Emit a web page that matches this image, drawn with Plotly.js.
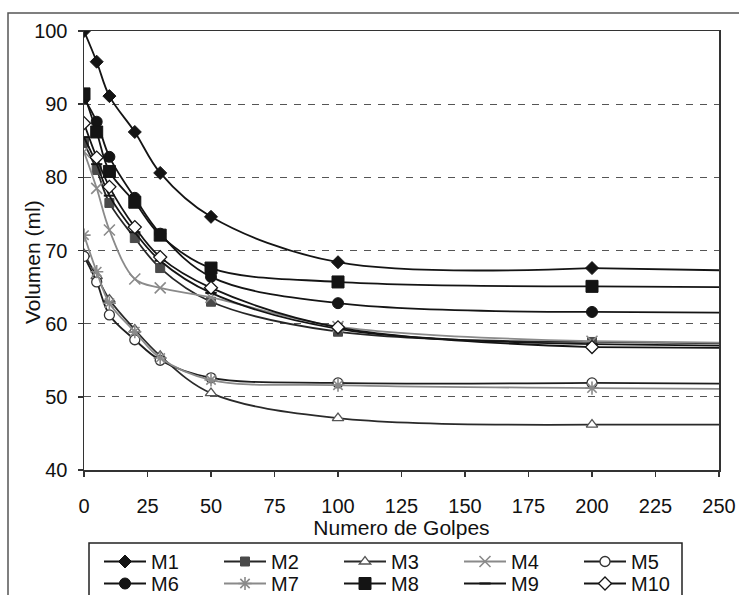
<!DOCTYPE html>
<html><head><meta charset="utf-8">
<script src="https://cdn.plot.ly/plotly-3.0.1.min.js"></script>
<style>html,body{margin:0;padding:0;background:#fff}</style>
</head><body>
<div id="chart" style="width:739px;height:595px"></div>
<script>
// x values: number of blows
const golpes = [0, 5, 10, 20, 30, 50, 100, 200, 250];
// volume (ml) per mixture
const M1  = [100.0, 95.8, 91.1, 86.2, 80.6, 74.6, 68.4, 67.6, 67.3];
const M2  = [84.7, 81.0, 76.5, 71.7, 67.6, 63.0, 58.9, 57.5, 57.3];
const M3  = [69.5, 66.5, 63.3, 59.2, 55.6, 50.5, 47.1, 46.2, 46.2];
const M4  = [83.5, 78.5, 72.8, 66.1, 64.9, 63.6, 59.6, 57.6, 57.4];
const M5  = [69.2, 65.7, 61.2, 57.8, 55.0, 52.6, 51.9, 51.9, 51.8];
const M6  = [90.8, 87.6, 82.8, 77.2, 72.3, 66.4, 62.8, 61.6, 61.5];
const M7  = [72.1, 67.1, 62.8, 58.9, 55.3, 52.3, 51.6, 51.2, 51.1];
const M8  = [91.4, 86.2, 80.8, 76.6, 72.1, 67.6, 65.7, 65.1, 65.0];
const M9  = [85.5, 81.8, 77.5, 72.5, 68.6, 64.2, 59.3, 57.2, 57.0];
const M10 = [87.4, 82.7, 78.7, 73.2, 69.1, 64.9, 59.5, 56.8, 56.7];

const seriesNames = ['M1','M2','M3','M4','M5','M6','M7','M8','M9','M10'];
const seriesValues = [M1, M2, M3, M4, M5, M6, M7, M8, M9, M10];
const xTicks = [0, 25, 50, 75, 100, 125, 150, 175, 200, 225, 250];
const yTicks = [40, 50, 60, 70, 80, 90, 100];

// styles
const BK = '#141414', DG = '#4a4a4a', GR = '#8a8a8a';
const styles = {
  M1:  {lc: BK, sym: 'diamond', size: 10, fill: BK, ol: BK, olw: 1},
  M2:  {lc: '#262626', sym: 'square', size: 9, fill: DG, ol: DG, olw: 1},
  M3:  {lc: '#2a2a2a', sym: 'triangle-up', size: 10, fill: '#fff', ol: '#555', olw: 1.3},
  M4:  {lc: GR, sym: 'x-thin-open', size: 11, fill: GR, ol: GR, olw: 1.6},
  M5:  {lc: '#1e1e1e', sym: 'circle', size: 10, fill: '#fff', ol: '#333', olw: 1.3},
  M6:  {lc: BK, sym: 'circle', size: 11, fill: BK, ol: BK, olw: 1},
  M7:  {lc: GR, sym: 'asterisk-open', size: 11, fill: GR, ol: GR, olw: 1.6},
  M8:  {lc: BK, sym: 'square', size: 12, fill: BK, ol: BK, olw: 1},
  M9:  {lc: BK, sym: 'line-ew-open', size: 8, fill: BK, ol: BK, olw: 2},
  M10: {lc: BK, sym: 'diamond', size: 10, fill: '#fff', ol: BK, olw: 1.3}
};

const lastMarked = 200;
const traces = [];
// tails (beyond last marked point), no markers
seriesNames.forEach((n, i) => {
  const s = styles[n];
  const idx = golpes.map((x, j) => j).filter(j => golpes[j] >= lastMarked);
  traces.push({
    x: idx.map(j => golpes[j]), y: idx.map(j => seriesValues[i][j]),
    mode: 'lines', line: {color: s.lc, width: 1.8}, showlegend: false, hoverinfo: 'skip'
  });
});
seriesNames.forEach((n, i) => {
  const s = styles[n];
  const idx = golpes.map((x, j) => j).filter(j => golpes[j] <= lastMarked);
  traces.push({
    name: n,
    x: idx.map(j => golpes[j]), y: idx.map(j => seriesValues[i][j]),
    mode: 'lines+markers',
    line: {color: s.lc, width: 1.8, shape: 'spline', smoothing: 1},
    marker: {symbol: s.sym, size: s.size, color: s.fill, line: {color: s.ol, width: s.olw}},
    legend: i < 5 ? 'legend' : 'legend2'
  });
});

const FONT = 'Liberation Sans, Arial, sans-serif';
const L = 84, R = 20, T = 31, B = 125, W = 739, H = 595;
const pw = W - L - R, ph = H - T - B;
const px2x = p => (p - L) / pw;
const py2y = p => (H - B - p) / ph;

const legendCommon = {
  orientation: 'h', xanchor: 'left', yanchor: 'top', xref: 'paper', yref: 'paper',
  entrywidth: 63, entrywidthmode: 'pixels', itemwidth: 42,
  font: {family: FONT, size: 20, color: '#111'}, bgcolor: 'rgba(0,0,0,0)', borderwidth: 0,
  traceorder: 'normal'
};

const layout = {
  width: W, height: H,
  margin: {l: L, r: R, t: T, b: B, autoexpand: false},
  paper_bgcolor: '#fff', plot_bgcolor: '#fff',
  font: {family: FONT, size: 20, color: '#111'},
  xaxis: {
    range: [0, 250], tickvals: xTicks, ticktext: xTicks.map(String),
    showgrid: false, zeroline: false,
    showline: true, linecolor: '#333', linewidth: 1.5, mirror: true,
    ticks: 'outside', ticklen: 5, tickcolor: '#333', tickwidth: 1.5, ticklabelstandoff: 12,
    tickfont: {family: FONT, size: 20, color: '#111'},
    title: {text: 'Numero de Golpes', font: {family: FONT, size: 21, color: '#111'}, standoff: 3}
  },
  yaxis: {
    range: [40, 100], tickvals: yTicks, ticktext: yTicks.map(String),
    showgrid: true, gridcolor: '#555', gridwidth: 1.3, griddash: '7px,7px',
    zeroline: false,
    showline: true, linecolor: '#333', linewidth: 1.5, mirror: true,
    ticks: 'outside', ticklen: 5, tickcolor: '#333', tickwidth: 1.5, ticklabelstandoff: 6,
    tickfont: {family: FONT, size: 20, color: '#111'}
  },
  legend: Object.assign({}, legendCommon, {x: px2x(99), y: py2y(542)}),
  legend2: Object.assign({}, legendCommon, {x: px2x(99), y: py2y(564)}),
  annotations: [{
    text: 'Volumen (ml)', xref: 'paper', yref: 'paper', x: px2x(32), y: py2y(262),
    xanchor: 'center', yanchor: 'middle', textangle: -90, showarrow: false,
    font: {family: FONT, size: 21, color: '#111'}
  }],
  shapes: [
    {type: 'rect', xref: 'paper', yref: 'paper', x0: px2x(8), x1: px2x(760), y0: py2y(620), y1: py2y(13),
     line: {color: '#555', width: 1.5}, fillcolor: 'rgba(0,0,0,0)', layer: 'below'},
    {type: 'rect', xref: 'paper', yref: 'paper', x0: px2x(89), x1: px2x(682), y0: py2y(612), y1: py2y(543),
     line: {color: '#222', width: 1.5}, fillcolor: 'rgba(0,0,0,0)'}
  ],
  showlegend: true
};

Plotly.newPlot('chart', traces, layout, {displayModeBar: false, staticPlot: true});
</script>
</body></html>
